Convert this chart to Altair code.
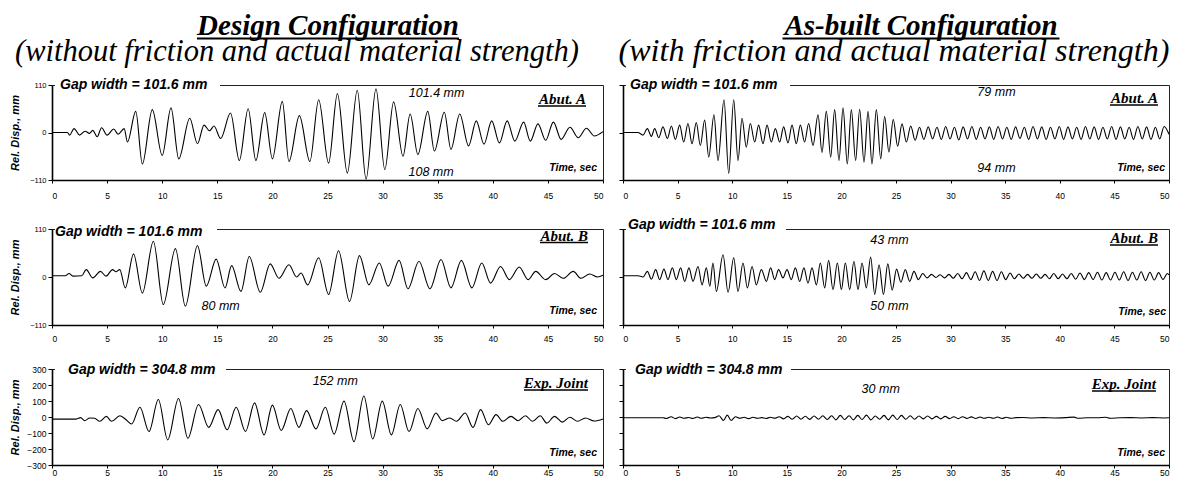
import altair as alt
import pandas as pd

X_TICKS = [0, 5, 10, 15, 20, 25, 30, 35, 40, 45, 50]
ABUT_TICKS = [-110, 0, 110]
JOINT_TICKS = [-300, -200, -100, 0, 100, 200, 300]

# ---------- Design configuration (peaks / troughs) ----------
DA_t = [0, 1.4, 1.6, 2.0, 2.5, 3.0, 3.4, 3.7, 4.1, 4.5, 5.0, 5.6, 6.0, 6.55, 6.85, 7.6, 8.2, 9.1, 10.0, 10.8,
        11.5, 12.5, 13.2, 13.8, 14.3, 14.7, 15.3, 16.2, 17.0, 17.8, 18.5, 19.3, 20.0, 20.9, 21.5, 22.45, 23.4,
        24.2, 25.1, 25.9, 26.8, 27.7, 28.5, 29.4, 30.2, 31.0, 31.85, 32.5, 33.2, 34.1, 34.7, 35.6, 36.2, 37.0,
        37.8, 38.5, 39.2, 39.9, 40.6, 41.3, 42.0, 42.8, 43.4, 44.1, 44.8, 45.5, 46.2, 47.0, 47.75, 48.5, 49.2, 50]
DA_v = [0, 0, -6, 9, -6, 3, -2, 5, -10, 11, -6, 8, -4, 9, -22, 49, -73, 53, -53, 57,
        -61, 33, -26, 17, 4, 15, -14, 45, -65, 55, -65, 46, -61, 72, -67, 39, -67,
        76, -71, 90, -94, 98, -108, 101, -86, 71, -55, 43, -51, 49, -43, 47, -39, 43,
        -31, 27, -27, 27, -24, 27, -20, 24, -20, 20, -18, 24, -16, 12, -12, 10, -8, 2]

DB_t = [0, 1.2, 1.55, 1.9, 2.7, 3.1, 3.7, 4.4, 4.9, 5.5, 5.8, 6.15, 6.65, 7.4, 8.2, 9.2, 10.1, 11.2, 12.1, 13.2,
        14.0, 14.9, 15.7, 16.3, 17.15, 17.9, 18.9, 19.8, 20.6, 21.5, 22.2, 22.6, 23.2, 24.2, 25.1, 26.0, 27.0,
        27.9, 28.75, 29.7, 30.5, 31.5, 32.3, 33.3, 34.3, 35.3, 36.2, 37.15, 38.1, 39.0, 39.8, 40.7, 41.5, 42.4,
        43.2, 43.9, 44.8, 45.6, 46.4, 47.3, 48.0, 48.8, 49.5, 50]
DB_v = [3, 3, 8, 2, 3, 17, -2, 13, 2, 17, 12, 17, -25, 53, -37, 82, -63, 65, -67, 72,
        -21, 41, -25, 26, -33, 47, -35, 30, -3, 28, 0, 9, -18, 44, -40, 60, -56,
        49, -18, 32, -21, 38, -27, 36, -27, 40, -25, 38, -25, 32, -14, 24, -6, 23,
        -6, 13, -6, 8, -3, 13, -3, 7, 0, 4]

DJ_t = [0, 2.2, 2.6, 2.96, 3.42, 3.88, 4.33, 4.94, 5.4, 6.16, 6.77, 7.22, 7.98, 8.8, 9.65, 10.5, 11.48, 12.33,
        13.3, 14.22, 15.07, 15.89, 16.71, 17.56, 18.38, 19.24, 20.0, 20.8, 21.67, 22.4, 23.1, 23.95, 24.8, 25.6,
        26.5, 27.4, 28.3, 29.1, 29.97, 30.8, 31.6, 32.4, 33.2, 34.05, 34.84, 35.4, 36.1, 36.7, 37.5, 38.2, 38.9,
        39.6, 40.3, 40.9, 41.65, 42.3, 42.96, 43.6, 44.3, 44.9, 45.6, 46.3, 47.0, 47.7, 48.4, 49.2, 50]
DJ_v = [-13, -13, -4, -23, -6, -8, -27, 4, -27, 8, -20, -44, 61, -91, 109, -143, 116, -133,
        78, -65, 46, -80, 61, -91, 88, -112, 74, -84, 53, -65, 40, -74, 61, -107,
        99, -154, 131, -137, 99, -112, 78, -91, 53, -74, 25, -23, -6, -27, 25, -65, 46,
        -48, 15, -27, 4, -23, 8, -27, 8, -38, 4, -32, -2, -27, -6, -25, -12]

# ---------- As-built configuration ----------
BA_t = [0, 1.37, 1.83, 2.23, 2.6, 2.9, 3.27, 3.66, 4.06, 4.43, 4.79, 5.19, 5.56, 5.95, 6.32, 6.71, 7.08, 7.48,
        7.85, 8.33, 8.7, 9.25, 9.68, 10.14, 10.53, 10.9, 11.29, 11.66, 12.06, 12.42, 12.82, 13.19, 13.58, 13.95,
        14.35, 14.71, 15.11, 15.48, 15.87, 16.24, 16.63, 17.0, 17.4, 17.86, 18.22, 18.62, 19.02, 19.38, 19.78,
        20.15, 20.54, 20.91, 21.3, 21.67, 22.07, 22.44, 22.8, 23.2, 23.6, 23.96,
        24.35, 24.75, 25.15, 25.55, 25.95, 26.35, 26.75, 27.15, 27.55, 27.95, 28.35, 28.75, 29.15, 29.55, 29.95,
        30.35, 30.75, 31.15, 31.55, 31.95, 32.35, 32.75, 33.15, 33.55, 33.95, 34.35, 34.75, 35.15, 35.55, 35.95,
        36.35, 36.75, 37.15, 37.55, 37.95, 38.35, 38.75, 39.15, 39.55, 39.95, 40.35, 40.75, 41.15, 41.55, 41.95,
        42.35, 42.75, 43.15, 43.55, 43.95, 44.35, 44.75, 45.15, 45.55, 45.95, 46.35, 46.75, 47.15, 47.55, 47.95,
        48.35, 48.75, 49.15, 49.55, 50]
BA_v = [0, 0, -6, 9, -9, 9, -12, 13, -14, 15, -16, 17, -22, 21, -26, 23, -30, 29,
        -57, 41, -65, 76, -95, 76, -65, 33, -34, 21, -22, 17, -26, 17, -22, 9,
        -22, 13, -24, 17, -26, 17, -22, 21, -30, 41, -46, 49, -57, 53, -65,
        57, -73, 53, -65, 54, -69, 49, -73, 53, -61, 37,
        -45, 30, -32, 20, -22, 15, -18, 12, -16, 13, -15, 12, -16, 14, -15,
        12, -17, 13, -15, 14, -16, 12, -15, 13, -16, 14, -15, 12, -16, 13,
        -14, 12, -16, 14, -15, 13, -16, 12, -15, 14, -16, 13, -15, 12, -16,
        14, -15, 13, -16, 12, -15, 14, -16, 13, -15, 12, -16, 14, -15, 13,
        -16, 12, -15, 14, -4]

BB_t = [0, 1.37, 1.83, 2.23, 2.6, 2.99, 3.36, 3.75, 4.12, 4.52, 4.88, 5.28, 5.65, 6.04, 6.41, 6.87, 7.24, 7.63,
        7.95, 8.24, 8.55, 9.16, 9.62, 10.14, 10.53, 10.99, 11.39, 11.82, 12.21, 12.67, 13.13, 13.52, 13.89, 14.25,
        14.65, 15.02, 15.41, 15.78, 16.18, 16.57, 16.94, 17.31, 17.71, 18.07, 18.47, 18.83, 19.23, 19.63, 20.0,
        20.36, 20.76, 21.15, 21.52, 21.89, 22.28, 22.68, 23.05, 23.45, 23.85, 24.25, 24.65, 25.05, 25.45, 25.85,
        26.25, 26.65, 27.05, 27.45, 27.85, 28.25, 28.65, 29.05, 29.45, 29.85, 30.25, 30.65, 31.05, 31.45, 31.85,
        32.25, 32.65, 33.05, 33.45, 33.85, 34.25, 34.65, 35.05, 35.45, 35.85, 36.25, 36.65, 37.05, 37.45, 37.85,
        38.25, 38.65, 39.05, 39.45, 39.85, 40.25, 40.65, 41.05, 41.45, 41.85, 42.25, 42.65, 43.05, 43.45, 43.85,
        44.25, 44.65, 45.05, 45.45, 45.85, 46.25, 46.65, 47.05, 47.45, 47.85, 48.25, 48.65, 49.05, 49.45, 49.85, 50]
BB_v = [3, 3, 0, 13, -5, 17, -6, 18, -6, 21, -6, 21, -10, 21, -10, 24, -18, 21,
        -21, 32, -33, 51, -35, 44, -33, 32, -25, 24, -18, 17, -10, 21, -6, 17,
        -2, 17, -6, 21, -10, 21, -14, 21, -18, 32, -25, 38, -29, 32, -29,
        32, -29, 36, -29, 32, -25, 46, -40, 28, -40, 30, -30, 18, -12, 17,
        -10, 13, -6, 8, -2, 6, -1, 5, -2, 6, -3, 8, -4, 10, -6,
        12, -8, 14, -8, 13, -8, 12, -6, 9, -4, 7, -3, 6, -3, 7,
        -3, 6, -4, 8, -4, 7, -4, 8, -5, 9, -6, 10, -6, 11, -7,
        10, -7, 11, -7, 12, -8, 11, -7, 12, -8, 11, -7, 10, -6, 8, 5]

BJ_t = [0, 3.65, 4.0, 4.4, 4.8, 5.2, 5.6, 6.0, 6.4, 6.8, 7.2, 7.6, 8.0, 8.4, 8.8, 9.2, 9.55, 9.9, 10.3, 10.7,
        11.1, 11.5, 11.9, 12.3, 12.7, 13.1, 13.5, 13.9, 14.3, 14.7, 15.1, 15.5, 15.9, 16.3, 16.7, 17.1, 17.5,
        17.9, 18.3, 18.7, 19.1, 19.5, 19.9, 20.3, 20.7, 21.1, 21.5, 21.9, 22.3, 22.7, 23.1, 23.5, 23.9, 24.3,
        24.7, 25.1, 25.5, 25.9, 26.3, 26.7, 27.1, 27.5, 27.9, 28.3, 28.7, 29.1, 29.5, 29.9, 30.3, 30.7, 31.1,
        31.5, 31.9, 32.3, 32.7, 33.1, 33.5, 33.9, 34.3, 34.7, 35.1, 35.5, 36.0, 36.6, 37.5, 38.5, 39.5, 40.5,
        41.3, 41.7, 42.5, 43.5, 44.2, 44.6, 45.5, 46.5, 47.5, 48.5, 49.5, 50]
BJ_v = [-5, -5, -9, 2, -10, 0, -8, -3, -9, 0, -8, -2, -6, -4, 8, -22, 12, -22, 2, -8,
        -2, -10, -2, -8, -4, -9, -2, -8, 2, -12, 4, -14, 6, -14, 5, -15, 6,
        -14, 8, -16, 8, -18, 10, -16, 8, -18, 10, -16, 12, -18, 6, -14, 10, -18,
        12, -16, 10, -14, 8, -14, 6, -12, 6, -12, 4, -12, 4, -10, 2, -10, 2,
        -9, 1, -9, 0, -8, -2, -8, 0, -9, -2, -8, -4, -3, -6, -4, -6, -4,
        -1, -8, -5, -5, -2, -8, -5, -4, -6, -4, -6, -5]

SANS = "Liberation Sans"
SERIF = "Liberation Serif"
ONE = pd.DataFrame({"k": [0]})


def text_at(s, x, y, size, font, weight="normal", style="italic", align="left", baseline="middle"):
    return alt.Chart(pd.DataFrame({"s": [s]})).mark_text(
        font=font, fontSize=size, fontStyle=style, fontWeight=weight, align=align,
        baseline=baseline, color="black").encode(x=alt.value(x), y=alt.value(y), text="s:N")


def hline(x1, x2, y, w=1.3):
    return alt.Chart(ONE).mark_rule(color="black", strokeWidth=w).encode(
        x=alt.value(x1), x2=alt.value(x2), y=alt.value(y))


def panel(t, v, p):
    w, h = p["w"], p["h"]
    xenc = alt.X("t:Q", scale=alt.Scale(domain=[0, 50], nice=False, zero=False),
                 axis=alt.Axis(values=X_TICKS, title=None, labelFontSize=8.5, labelFont=SANS,
                               labelPadding=p["lpad"], tickSize=3, grid=False, labelColor="black",
                               domainColor="black", domainWidth=1.6, tickColor="black", zindex=1))
    yaxis = dict(values=p["yticks"], grid=False, tickSize=4, labelFontSize=p["ylfs"], labelFont=SANS,
                 labelColor="black", domainColor="black", domainWidth=1.6, tickColor="black",
                 labelPadding=2, zindex=1)
    if p["left"]:
        yaxis.update(title="Rel. Disp., mm", titleFont=SANS, titleFontSize=11, titleFontStyle="italic",
                     titleFontWeight="bold", titleColor="black", titleX=-32)
    else:
        yaxis.update(title=None, labels=False)
    yenc = alt.Y("v:Q", scale=alt.Scale(domain=p["ydom"], nice=False, zero=False), axis=alt.Axis(**yaxis))

    df = pd.DataFrame({"t": t, "v": v})
    line = alt.Chart(df).mark_line(color="black", strokeWidth=1.1, interpolate="monotone").encode(x=xenc, y=yenc)
    mask = alt.Chart(ONE).mark_rect(color="white").encode(
        x=alt.value(3), x2=alt.value(p["gap_end"]), y=alt.value(-3), y2=alt.value(3))
    gap = text_at(p["gap"], p["gap_x"], p["gap_y"], 14, SANS, weight="bold")
    tag = text_at(p["tag"], w - p["tag_dx"], p["tag_y"], 15, SERIF, weight="bold", align="right")
    tag_ul = hline(w - p["tag_dx"] - p["tag_w"], w - p["tag_dx"], p["tag_uy"], 1.3)
    time = text_at("Time, sec", w - p["time_dx"], p["time_y"], 10.5, SANS, weight="bold", align="right")
    notes_df = pd.DataFrame({"t": p["note_t"], "v": p["note_v"], "s": p["note_s"]})
    notes = alt.Chart(notes_df).mark_text(font=SANS, fontSize=12.5, fontStyle="italic", color="black",
                                          baseline="middle").encode(x=xenc, y=yenc, text="s:N")
    layers = [line, mask, gap, tag, tag_ul, time, notes]
    if "title" in p:
        layers += [
            text_at(p["title"], p["title_x"], -50, 29, SERIF, weight="bold", align="center",
                    baseline="alphabetic"),
            hline(p["title_x"] - p["title_w"] / 2, p["title_x"] + p["title_w"] / 2, -46.5, 2),
            text_at(p["sub"], p["sub_x"], -24, p["sub_fs"], SERIF, align="center", baseline="alphabetic"),
        ]
    return alt.layer(*layers).properties(width=w, height=h)


GAP1 = "Gap width = 101.6 mm"
GAP3 = "Gap width = 304.8 mm"
WL, WR = 551, 546

p_da = dict(w=WL, h=95, left=True, ydom=[-110, 110], yticks=ABUT_TICKS, ylfs=7.5, lpad=8,
            gap=GAP1, gap_x=8, gap_y=0, gap_end=168, tag="Abut. A", tag_dx=17, tag_y=14, tag_uy=21, tag_w=48,
            time_dx=6, time_y=83, note_t=[34.9, 34.4], note_v=[91, -91], note_s=["101.4 mm", "108 mm"],
            title="Design Configuration", title_x=276, title_w=262,
            sub="(without friction and actual material strength)", sub_x=245, sub_fs=30.5)
p_ba = dict(w=WR, h=95, left=False, ydom=[-110, 110], yticks=ABUT_TICKS, ylfs=7.5, lpad=8,
            gap=GAP1, gap_x=7, gap_y=0, gap_end=167, tag="Abut. A", tag_dx=11, tag_y=13, tag_uy=20, tag_w=48,
            time_dx=4, time_y=83, note_t=[34.2, 34.2], note_v=[94, -82], note_s=["79 mm", "94 mm"],
            title="As-built Configuration", title_x=298, title_w=277,
            sub="(with friction and actual material strength)", sub_x=271, sub_fs=32)
p_db = dict(w=WL, h=96, left=True, ydom=[-110, 110], yticks=ABUT_TICKS, ylfs=7.5, lpad=6,
            gap=GAP1, gap_x=3, gap_y=3, gap_end=165, tag="Abut. B", tag_dx=15, tag_y=6.5, tag_uy=13.5, tag_w=48,
            time_dx=6, time_y=82, note_t=[15.3], note_v=[-67], note_s=["80 mm"])
p_bb = dict(w=WR, h=96, left=False, ydom=[-110, 110], yticks=ABUT_TICKS, ylfs=7.5, lpad=6,
            gap=GAP1, gap_x=5, gap_y=-4, gap_end=163, tag="Abut. B", tag_dx=11, tag_y=9, tag_uy=16, tag_w=48,
            time_dx=3, time_y=83, note_t=[24.4, 24.4], note_v=[85, -66], note_s=["43 mm", "50 mm"])
p_dj = dict(w=WL, h=96, left=True, ydom=[-300, 300], yticks=JOINT_TICKS, ylfs=8.5, lpad=0,
            gap=GAP3, gap_x=16, gap_y=1, gap_end=174, tag="Exp. Joint", tag_dx=15, tag_y=14, tag_uy=21, tag_w=64,
            time_dx=6, time_y=84, note_t=[25.7], note_v=[225], note_s=["152 mm"])
p_bj = dict(w=WR, h=96, left=False, ydom=[-300, 300], yticks=JOINT_TICKS, ylfs=8.5, lpad=0,
            gap=GAP3, gap_x=12, gap_y=1, gap_end=168, tag="Exp. Joint", tag_dx=13, tag_y=15, tag_uy=22, tag_w=64,
            time_dx=4, time_y=84, note_t=[23.6], note_v=[175], note_s=["30 mm"])

row1 = alt.hconcat(panel(DA_t, DA_v, p_da), panel(BA_t, BA_v, p_ba), spacing=20, bounds="flush")
row2 = alt.hconcat(panel(DB_t, DB_v, p_db), panel(BB_t, BB_v, p_bb), spacing=20, bounds="flush")
row3 = alt.hconcat(panel(DJ_t, DJ_v, p_dj), panel(BJ_t, BJ_v, p_bj), spacing=20, bounds="flush")

chart = alt.vconcat(row1, alt.vconcat(row2, row3, spacing=19), spacing=17).properties(
    padding={"top": 3, "left": 0, "right": 0, "bottom": 0}, background="white"
).configure_view(stroke="#222222", strokeWidth=1)

chart.save("out.html", embed_options={"renderer": "svg", "actions": False})
